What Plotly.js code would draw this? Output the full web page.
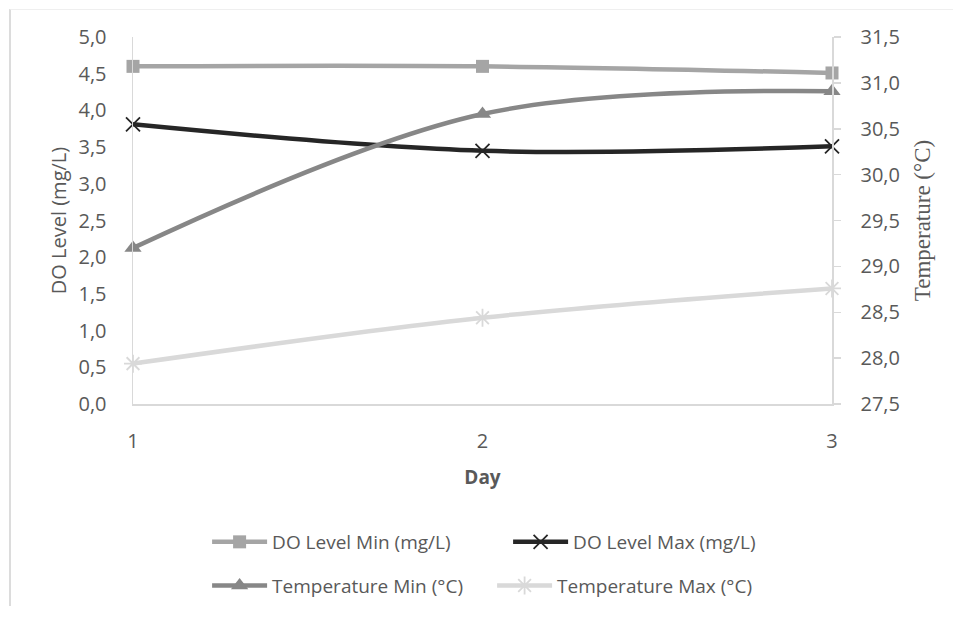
<!DOCTYPE html>
<html>
<head>
<meta charset="utf-8">
<script src="https://cdn.plot.ly/plotly-3.0.1.min.js"></script>
<style>
html,body{margin:0;padding:0;background:#fff;}
#frame{position:absolute;left:9px;top:9px;width:960px;height:596px;border-left:2px solid #dcdcdc;border-top:1px solid #efefef;pointer-events:none;z-index:5;}
#chart{position:absolute;left:0;top:0;width:953px;height:617px;}
</style>
</head>
<body>
<div id="chart"></div>
<div id="frame"></div>
<script>
var days = [1, 2, 3];
var doMin = [4.60, 4.60, 4.51];
var doMax = [3.81, 3.45, 3.51];
var tempMin = [29.20, 30.66, 30.91];
var tempMax = [27.94, 28.44, 28.76];

var seriesNames = ["DO Level Min (mg/L)", "DO Level Max (mg/L)", "Temperature Min (°C)", "Temperature Max (°C)"];
var yTickVals = [0, 0.5, 1, 1.5, 2, 2.5, 3, 3.5, 4, 4.5, 5];
var y2TickVals = [27.5, 28, 28.5, 29, 29.5, 30, 30.5, 31, 31.5];
function comma(v){ return v.toFixed(1).replace('.', ','); }

var traces = [
  {x: days, y: doMin, name: seriesNames[0], type: 'scatter', mode: 'lines+markers', legend: 'legend', cliponaxis: false,
   line: {color: '#A5A5A5', width: 4.5, shape: 'spline'},
   marker: {symbol: 'square', size: 13, color: '#A5A5A5'}},
  {x: days, y: doMax, name: seriesNames[1], type: 'scatter', mode: 'lines+markers', legend: 'legend', cliponaxis: false,
   line: {color: '#262626', width: 4.5, shape: 'spline'},
   marker: {symbol: 'x-thin-open', size: 14, color: '#262626', line: {width: 1.8, color: '#262626'}}},
  {x: days, y: tempMin, name: seriesNames[2], type: 'scatter', mode: 'lines+markers', yaxis: 'y2', legend: 'legend2', cliponaxis: false,
   line: {color: '#878787', width: 4.5, shape: 'spline'},
   marker: {symbol: 'triangle-up', size: 15, color: '#878787'}},
  {x: days, y: tempMax, name: seriesNames[3], type: 'scatter', mode: 'lines+markers', yaxis: 'y2', legend: 'legend2', cliponaxis: false,
   line: {color: '#D9D9D9', width: 4.5, shape: 'spline'},
   marker: {symbol: 'asterisk-open', size: 15, color: '#D9D9D9', line: {width: 1.8, color: '#D9D9D9'}}}
];

var sans = 'Open Sans, Noto Sans, sans-serif';
var tickFont = {family: sans, size: 20, color: '#595959'};
var legendFont = {family: sans, size: 19, color: '#595959'};

var layout = {
  width: 953, height: 617,
  paper_bgcolor: '#ffffff', plot_bgcolor: '#ffffff',
  margin: {l: 133, r: 121, t: 37, b: 210},
  showlegend: true,
  xaxis: {
    range: [1, 3], tickvals: days, ticktext: days.map(String),
    showgrid: false, zeroline: false, showline: true, linecolor: '#d9d9d9', linewidth: 1.5,
    ticks: '', tickfont: tickFont, ticklabelstandoff: 18,
    title: {text: '<b>Day</b>', font: {family: sans, size: 19, color: '#595959'}, standoff: 18}
  },
  yaxis: {
    range: [0, 5], tickvals: yTickVals, ticktext: yTickVals.map(comma),
    showgrid: false, zeroline: false, showline: true, linecolor: '#d9d9d9', linewidth: 1.5,
    ticks: '', tickfont: tickFont, ticklabelstandoff: 21,
    title: {text: 'DO Level (mg/L)', font: {family: sans, size: 20, color: '#595959'}, standoff: 6}
  },
  yaxis2: {
    overlaying: 'y', side: 'right', range: [27.5, 31.5],
    tickvals: y2TickVals, ticktext: y2TickVals.map(comma),
    showgrid: false, zeroline: false, showline: true, linecolor: '#d9d9d9', linewidth: 1.5,
    ticks: 'outside', ticklen: 7, tickcolor: '#d9d9d9', tickwidth: 1.5,
    tickfont: tickFont, ticklabelstandoff: 16,
    title: {text: 'Temperature (°C)', font: {family: 'Liberation Serif, serif', size: 23, color: '#595959'}, standoff: 15}
  },
  legend: {
    orientation: 'h', x: 0.106, xanchor: 'left', xref: 'paper',
    y: -0.376, yanchor: 'middle', entrywidth: 231, entrywidthmode: 'pixels',
    itemwidth: 55, font: legendFont, bgcolor: 'rgba(0,0,0,0)'
  },
  legend2: {
    orientation: 'h', x: 0.106, xanchor: 'left', xref: 'paper',
    y: -0.495, yanchor: 'middle', entrywidth: 215, entrywidthmode: 'pixels',
    itemwidth: 55, font: legendFont, bgcolor: 'rgba(0,0,0,0)'
  }
};

Plotly.newPlot('chart', traces, layout, {displayModeBar: false, staticPlot: true});
</script>
</body>
</html>
